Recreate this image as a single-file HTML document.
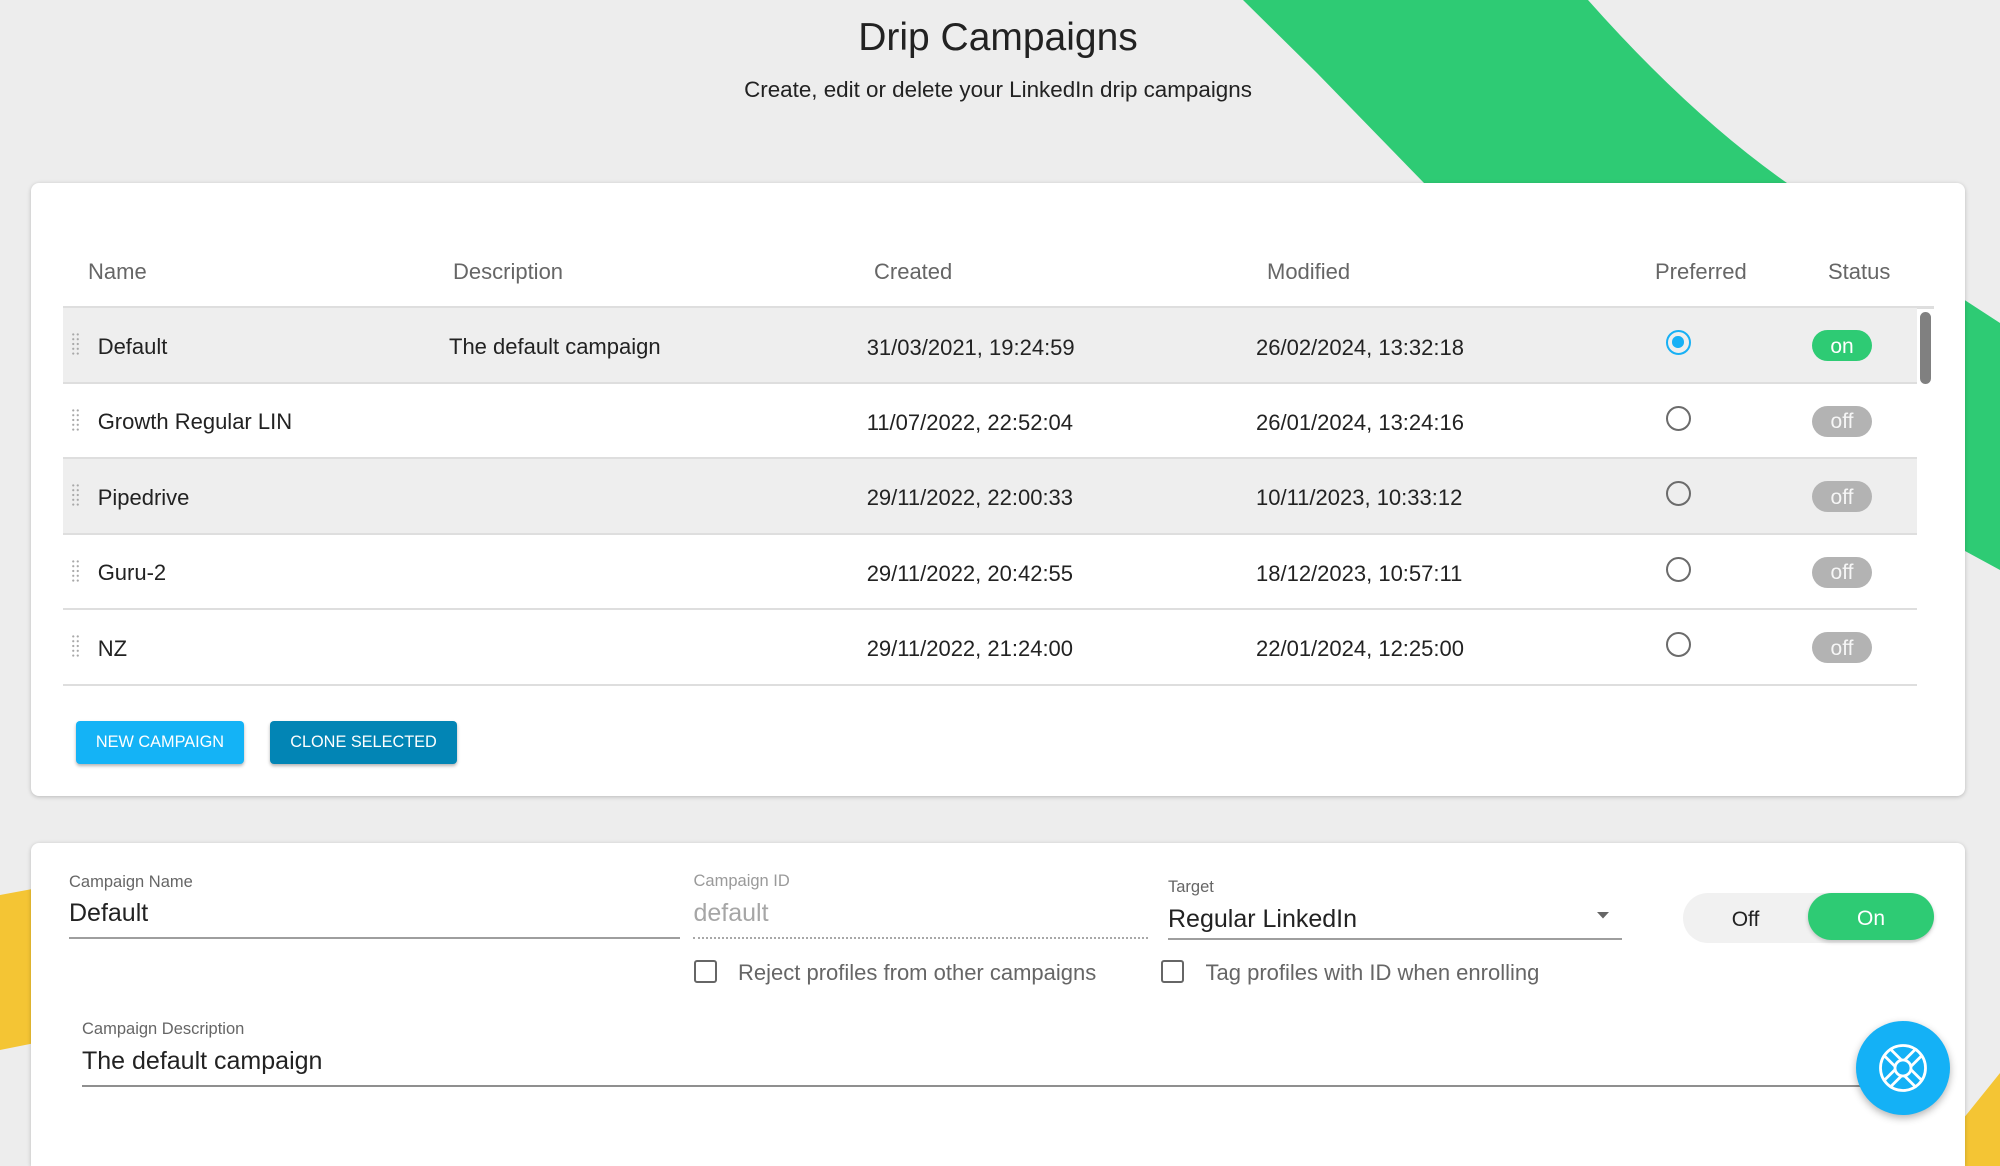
<!DOCTYPE html>
<html>
<head>
<meta charset="utf-8">
<style>
*{margin:0;padding:0;box-sizing:border-box}
html,body{width:2000px;height:1166px;overflow:hidden;background:#ededed;font-family:"Liberation Sans",Arial,sans-serif}
#wrap{position:relative;width:2000px;height:1166px;overflow:hidden}
.abs{position:absolute}
.t{position:absolute;line-height:1;white-space:nowrap}
.card{position:absolute;background:#fff;border-radius:8px;box-shadow:0 1px 4px rgba(0,0,0,0.22)}
.hdr{font-size:22px;color:#666;top:260.7px}
.row{position:absolute;left:63px;width:1854px;height:75.5px;border-bottom:2px solid #dedede}
.row.g{background:#eeeeee}
.nm{font-size:22px;color:#222}
.dt{font-size:22px;color:#222}
.handle{position:absolute;left:71px;width:9px;height:24px;background-image:radial-gradient(circle,#a8a8a8 0.9px,transparent 1.3px);background-size:4.5px 4.8px}
.radio{position:absolute;left:1666px;width:25px;height:25px;border-radius:50%;border:2.4px solid #6b6b6b}
.radio.sel{border-color:#17b0f5}
.radio.sel::after{content:"";position:absolute;left:4.3px;top:4.3px;width:11.6px;height:11.6px;border-radius:50%;background:#17b0f5}
.pill{position:absolute;left:1812px;width:60px;height:31px;border-radius:16px;background:#b3b3b3;color:#f6f6f6;font-size:21px;display:flex;align-items:center;justify-content:center;line-height:1;padding-top:1px}
.pill.on{background:#2ecb74;color:#fff}
.btn{position:absolute;top:721px;height:43px;border-radius:4px;color:#fff;font-size:16.3px;display:flex;align-items:center;justify-content:center;line-height:1;box-shadow:0 2px 3px rgba(0,0,0,0.3)}
.lbl{font-size:16.5px;color:#666}
.val{font-size:25px;color:#222}
.cb{position:absolute;top:960px;width:23px;height:23px;border:2px solid #666;border-radius:3px}
.cbl{font-size:22px;color:#666;top:961.5px}
</style>
</head>
<body>
<div id="wrap">
<svg class="abs" style="left:0;top:0" width="2000" height="1166" viewBox="0 0 2000 1166">
  <path fill="#2ecb74" d="M1243,0 L1588,0 Q1690,115 1787,183 Q1880,245 2000,323 L2000,570 L1965,551 L1424,183 L1317,73 Z"/>
  <polygon fill="#f4c534" points="0,895 70,882 70,1036 0,1050"/>
  <polygon fill="#f4c534" points="1930,1160 2000,1073 2000,1166 1925,1166"/>
</svg>

<div class="t" style="left:498px;width:1000px;text-align:center;top:17.5px;font-size:39px;color:#222">Drip Campaigns</div>
<div class="t" style="left:498px;width:1000px;text-align:center;top:78.5px;font-size:22.4px;color:#222">Create, edit or delete your LinkedIn drip campaigns</div>

<!-- Card 1 -->
<div class="card" style="left:31px;top:183px;width:1934px;height:613px"></div>

<div class="t hdr" style="left:88px">Name</div>
<div class="t hdr" style="left:453px">Description</div>
<div class="t hdr" style="left:874px">Created</div>
<div class="t hdr" style="left:1267px">Modified</div>
<div class="t hdr" style="left:1655px">Preferred</div>
<div class="t hdr" style="left:1828px">Status</div>
<div class="abs" style="left:63px;top:306px;width:1871px;height:2.5px;background:#dedede"></div>

<!-- rows -->
<div class="row g" style="top:308px;height:75.5px"></div>
<div class="row" style="top:383.5px"></div>
<div class="row g" style="top:459px"></div>
<div class="row" style="top:534.5px"></div>
<div class="row" style="top:610px"></div>

<!-- scrollbar -->
<div class="abs" style="left:1920px;top:312px;width:11px;height:72px;border-radius:6px;background:#808080"></div>

<!-- row 1 -->
<div class="handle" style="top:332px"></div>
<div class="t nm" style="left:97.7px;top:336px">Default</div>
<div class="t nm" style="left:449px;top:336px">The default campaign</div>
<div class="t dt" style="left:866.7px;top:336.5px">31/03/2021, 19:24:59</div>
<div class="t dt" style="left:1256px;top:336.5px">26/02/2024, 13:32:18</div>
<div class="radio sel" style="top:330px"></div>
<div class="pill on" style="top:330px">on</div>

<!-- row 2 -->
<div class="handle" style="top:407.5px"></div>
<div class="t nm" style="left:97.7px;top:411px">Growth Regular LIN</div>
<div class="t dt" style="left:866.7px;top:411.5px">11/07/2022, 22:52:04</div>
<div class="t dt" style="left:1256px;top:411.5px">26/01/2024, 13:24:16</div>
<div class="radio" style="top:405.5px"></div>
<div class="pill" style="top:405.5px">off</div>

<!-- row 3 -->
<div class="handle" style="top:483px"></div>
<div class="t nm" style="left:97.7px;top:486.5px">Pipedrive</div>
<div class="t dt" style="left:866.7px;top:487px">29/11/2022, 22:00:33</div>
<div class="t dt" style="left:1256px;top:487px">10/11/2023, 10:33:12</div>
<div class="radio" style="top:481px"></div>
<div class="pill" style="top:481px">off</div>

<!-- row 4 -->
<div class="handle" style="top:558.5px"></div>
<div class="t nm" style="left:97.7px;top:562px">Guru-2</div>
<div class="t dt" style="left:866.7px;top:562.5px">29/11/2022, 20:42:55</div>
<div class="t dt" style="left:1256px;top:562.5px">18/12/2023, 10:57:11</div>
<div class="radio" style="top:556.5px"></div>
<div class="pill" style="top:556.5px">off</div>

<!-- row 5 -->
<div class="handle" style="top:634px"></div>
<div class="t nm" style="left:97.7px;top:637.5px">NZ</div>
<div class="t dt" style="left:866.7px;top:638px">29/11/2022, 21:24:00</div>
<div class="t dt" style="left:1256px;top:638px">22/01/2024, 12:25:00</div>
<div class="radio" style="top:632px"></div>
<div class="pill" style="top:632px">off</div>

<!-- buttons -->
<div class="btn" style="left:76px;width:168px;background:#14b3f6">NEW CAMPAIGN</div>
<div class="btn" style="left:270px;width:187px;background:#0285b5">CLONE SELECTED</div>

<!-- Card 2 -->
<div class="card" style="left:31px;top:843px;width:1934px;height:323px;border-bottom-left-radius:0;border-bottom-right-radius:0"></div>

<div class="t lbl" style="left:69px;top:873.5px">Campaign Name</div>
<div class="t val" style="left:69px;top:900.5px">Default</div>
<div class="abs" style="left:69px;top:937px;width:611px;height:2px;background:#9e9e9e"></div>

<div class="t lbl" style="left:693.5px;top:873px;color:#9a9a9a">Campaign ID</div>
<div class="t val" style="left:693.5px;top:900.8px;color:#a6a6a6">default</div>
<div class="abs" style="left:693px;top:937px;width:455px;height:0;border-bottom:2px dotted #a8a8a8"></div>

<div class="t lbl" style="left:1168px;top:879px">Target</div>
<div class="t val" style="left:1168px;top:906.5px">Regular LinkedIn</div>
<svg class="abs" style="left:1597px;top:912px" width="13" height="7" viewBox="0 0 13 7"><polygon points="0,0 12,0 6,6.5" fill="#666"/></svg>
<div class="abs" style="left:1168px;top:937.5px;width:454px;height:2px;background:#9e9e9e"></div>

<!-- toggle -->
<div class="abs" style="left:1683px;top:893px;width:251px;height:50px;border-radius:25px;background:#f1f1f1"></div>
<div class="abs" style="left:1683px;top:894px;width:125px;height:50px;display:flex;align-items:center;justify-content:center;font-size:21px;color:#222;line-height:1">Off</div>
<div class="abs" style="left:1808px;top:893px;width:126px;height:47px;border-radius:24px;background:#2ecb74;box-shadow:0 2px 4px rgba(0,0,0,0.2);display:flex;align-items:center;justify-content:center;font-size:21px;color:#fff;line-height:1;padding-top:3px">On</div>

<!-- checkboxes -->
<div class="cb" style="left:694px"></div>
<div class="t cbl" style="left:738px">Reject profiles from other campaigns</div>
<div class="cb" style="left:1161px"></div>
<div class="t cbl" style="left:1205.5px">Tag profiles with ID when enrolling</div>

<div class="t lbl" style="left:82px;top:1021px">Campaign Description</div>
<div class="t val" style="left:82px;top:1048.5px">The default campaign</div>
<div class="abs" style="left:82px;top:1084.5px;width:1830px;height:2px;background:#8f8f8f"></div>

<!-- FAB -->
<div class="abs" style="left:1856px;top:1021px;width:94px;height:94px;border-radius:50%;background:#14b1f6;box-shadow:0 3px 8px rgba(0,0,0,0.3)"></div>
<svg class="abs" style="left:1873px;top:1038px" width="60" height="60" viewBox="-30 -30 60 60">
  <g fill="none" stroke="#fff" stroke-width="2.8" stroke-linecap="round">
    <circle r="22.5"/>
    <circle r="8"/>
    <g id="sp">
      <line x1="7.85" y1="-1.49" x2="18.77" y2="-12.41"/>
      <line x1="1.49" y1="-7.85" x2="12.41" y2="-18.77"/>
    </g>
    <use href="#sp" transform="rotate(90)"/>
    <use href="#sp" transform="rotate(180)"/>
    <use href="#sp" transform="rotate(270)"/>
  </g>
</svg>
</div>
</body>
</html>
